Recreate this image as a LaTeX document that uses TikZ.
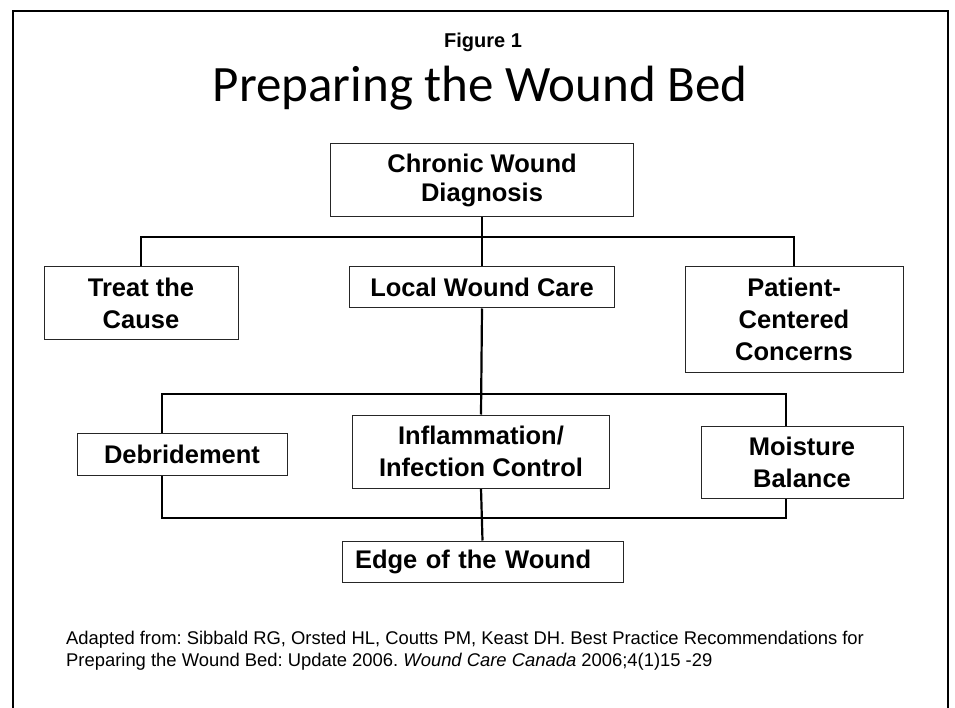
\documentclass[tikz,border=0pt]{standalone}
\usepackage{fontspec}
\setmainfont{Liberation Sans}
\newfontfamily\headfont{Carlito}
\usetikzlibrary{positioning,backgrounds}
\frenchspacing

\begin{document}
\begin{tikzpicture}[
    x=1pt, y=-1pt,
    every node/.style={font=\fontsize{25.5}{32}\selectfont\bfseries},
    box/.style={rectangle,draw=black!85,line width=1pt,fill=white,
                inner sep=0pt,align=center},
    link/.style={line width=2.2pt}
  ]
    \useasboundingbox (0,0) rectangle (955,708);
    \draw[line width=2pt] (13,708) -- (13,11) -- (948,11) -- (948,708);

    % headings
    \node[font=\fontsize{20}{24}\selectfont\bfseries,anchor=base] (fig) at (483,48) {Figure 1};
    \node[font=\headfont\fontsize{51}{57}\selectfont,anchor=base] (title) at (480,102) {Preparing the Wound Bed};

    % boxes
    \node[box,font=\fontsize{25.5}{29}\selectfont\bfseries,minimum width=303pt,minimum height=73pt] (diag) at (482,180.5) {Chronic Wound\\Diagnosis};
    \node[box,minimum width=194pt,minimum height=72pt] (cause) at (141,303) {Treat the\\Cause};
    \node[box,minimum width=265pt,minimum height=41pt] (local) at (482,287.5) {Local Wound Care};
    \node[box,minimum width=218pt,minimum height=105pt] (patient) at (794,319.5) {Patient-\\Centered\\Concerns};
    \node[box,minimum width=210pt,minimum height=42pt] (debr) at (182,454) {Debridement};
    \node[box,minimum width=257pt,minimum height=73pt] (infl) at (481,451.5) {Inflammation/\\Infection Control};
    \node[box,minimum width=202pt,minimum height=72pt] (moist) at (802,462) {Moisture\\Balance};
    \node[box,text width=255pt,align=left,inner xsep=13pt,minimum height=41pt] (edge) at (482.5,561.5) {Edge of the Wound};

    \coordinate (bus) at (482,237);
    \coordinate (brl) at (162,394);
    \coordinate (brr) at (786,518);

    % connectors
    \begin{scope}[on background layer]
      \draw[link] (diag.south) -- (bus);
      \draw[link] (cause.north) -- (cause.north |- bus) -- (patient.north |- bus) -- (patient.north);
      \draw[link] (bus) -- (local.north);
      \draw[link] (local.south) -- (infl.north);
      \draw[link] (brl) rectangle (brr);
      \draw[link] (infl.south) -- (edge.north);
    \end{scope}

    % source
    \node[font=\fontsize{18.4}{22.5}\selectfont,anchor=north west,align=left,inner sep=0pt] (src) at (66,630.5)
      {Adapted from: Sibbald RG, Orsted HL, Coutts PM, Keast DH. Best Practice Recommendations for\\
       Preparing the Wound Bed: Update 2006. \textit{Wound Care Canada} 2006;4(1)15 -29};
  \end{tikzpicture}
\end{document}
